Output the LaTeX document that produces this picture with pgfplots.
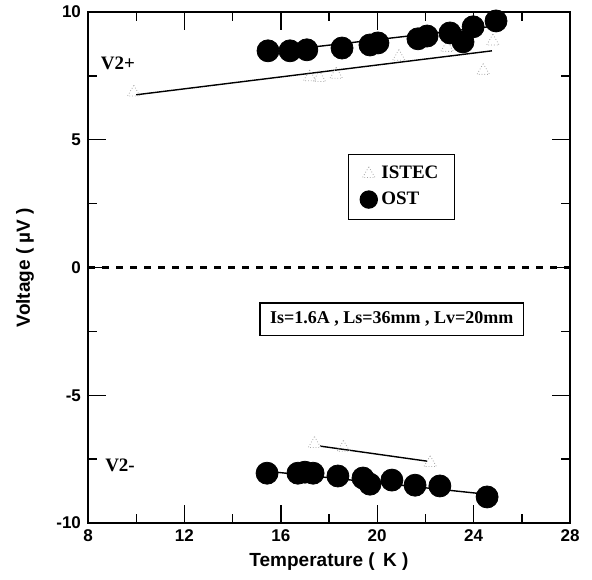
\documentclass[border=0pt]{standalone}
\usepackage{fontspec}
\setmainfont{Liberation Serif}
\setsansfont{Liberation Sans}
\usepackage{pgfplots}
\pgfplotsset{compat=1.18}

% OST (filled circles)
\pgfplotstableread{
T V
15.47 8.48
16.38 8.48
17.08 8.52
18.54 8.59
19.70 8.71
20.03 8.79
21.69 8.95
22.07 9.06
23.02 9.18
23.56 8.83
23.98 9.42
24.93 9.65
15.43 -8.05
16.71 -8.05
17.00 -8.01
17.34 -8.05
18.37 -8.16
19.41 -8.24
19.70 -8.48
20.61 -8.32
21.57 -8.52
22.60 -8.55
24.56 -8.98
}\ost

% ISTEC (open triangles)
\pgfplotstableread{
T V
9.90 6.85
17.20 7.45
17.60 7.42
18.30 7.55
20.90 8.25
22.90 8.60
24.40 7.70
24.80 8.85
17.40 -6.90
18.60 -7.05
22.20 -7.65
}\istec

\begin{document}
\begin{tikzpicture}
\useasboundingbox (-44pt,-28pt) rectangle (252pt,261.5pt);
\begin{axis}[
  scale only axis, width=241pt, height=255.5pt,
  xmin=8, xmax=28, ymin=-10, ymax=10,
  xtick={8,12,...,28}, minor xtick={10,14,...,26},
  ytick={-10,-5,0,5,10}, minor ytick={-7.5,-2.5,2.5,7.5},
  tick align=inside, major tick length=9pt, minor tick length=4.5pt,
  tick style={black, line width=0.7pt},
  axis line style={line width=0.8pt},
  /pgf/number format/assume math mode=true,
  ticklabel style={font=\sffamily\bfseries\fontsize{8.5}{10}\selectfont},
  xlabel={Temperature (\, K )},
  ylabel={Voltage ( µV )},
  label style={font=\sffamily\bfseries\fontsize{9.5}{11}\selectfont},
  xlabel style={at={(axis description cs:0.5,-0.0763)}, anchor=center},
  ylabel style={at={(axis description cs:-0.1307,0.5)}, anchor=center},
  clip=false,
  legend style={at={(axis cs:21,3.16)}, anchor=center, draw=black,
    line width=0.6pt, font=\rmfamily\bfseries\fontsize{9.5}{11}\selectfont,
    inner xsep=6pt, inner ysep=4pt, row sep=1pt},
  legend cell align=left,
]
  \addplot[forget plot, black, line width=1.2pt, dash pattern=on 3.5pt off 3.5pt]
    coordinates {(8,0) (28,0)};
  % fit lines
  \addplot[forget plot, black, line width=0.7pt] coordinates {(10.0,6.76) (24.76,8.48)};
  \addplot[forget plot, black, line width=0.7pt] coordinates {(17.63,-6.99) (22.07,-7.58)};
  \addplot[forget plot, black, line width=0.7pt] coordinates {(15.4,8.42) (24.9,9.45)};
  \addplot[forget plot, black, line width=0.7pt] coordinates {(15.4,-7.97) (24.5,-8.87)};
  \addplot[only marks, mark=triangle, mark size=3.6pt,
    mark options={gray!70, line width=0.4pt, densely dotted}]
    table[x=T, y=V] {\istec};
  \addlegendentry{ISTEC}
  \addplot[only marks, mark=*, mark size=5.5pt, black,
    legend image post style={mark size=4.3pt}]
    table[x=T, y=V] {\ost};
  \addlegendentry{OST}
  \node[font=\rmfamily\bfseries\fontsize{9.5}{10}\selectfont] at (axis cs:9.24,8.0) {V2+};
  \node[font=\rmfamily\bfseries\fontsize{9.5}{10}\selectfont] at (axis cs:9.33,-7.73) {V2-};
  \node[draw=black, line width=0.6pt, inner xsep=5pt, inner ysep=4.5pt,
    font=\rmfamily\bfseries\fontsize{9}{10}\selectfont]
    at (axis cs:20.6,-2.03) {Is=1.6A , Ls=36mm , Lv=20mm};
\end{axis}
\end{tikzpicture}
\end{document}
